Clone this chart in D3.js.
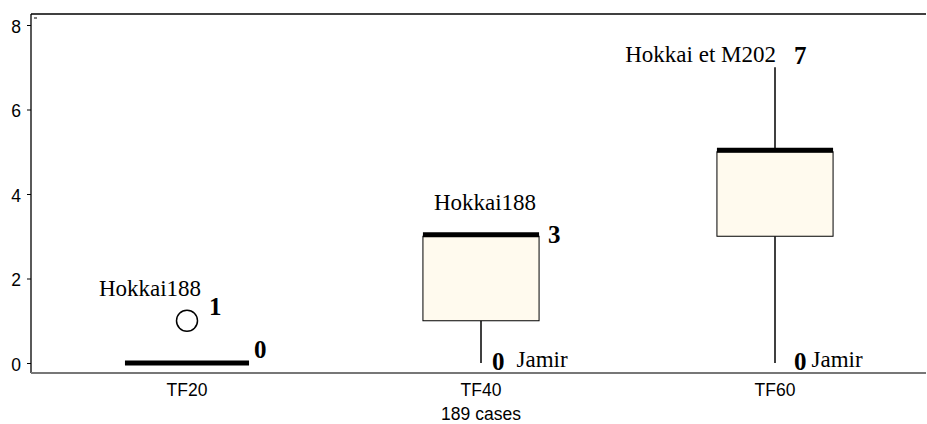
<!DOCTYPE html>
<html>
<head>
<meta charset="utf-8">
<script src="https://cdn.jsdelivr.net/npm/d3@7"></script>
<style>
  html, body { margin: 0; padding: 0; background: #fff; }
  svg { display: block; }
</style>
</head>
<body>
<svg id="chart" width="927" height="424"></svg>
<script>
// Box summaries per treatment
const categories = ["TF20", "TF40", "TF60"];
const lowWhisker = [0, 0, 0];
const q1Values = [0, 1, 3];
const medianValues = [0, 3, 5];
const q3Values = [0, 3, 5];
const highWhisker = [0, 3, 7];
const outlierValues = [[1], [], []];

// Annotations: the genotype at the top and bottom of each group
const topNames = ["Hokkai188", "Hokkai188", "Hokkai et M202"];
const bottomNames = ["", "Jamir", "Jamir"];

const yTicks = [0, 2, 4, 6, 8];
const xTitle = "189 cases";

(function draw() {
  const svg = d3.select("#chart");
  const mLeft = 31, mRight = 926, mTop = 14, mBottom = 373;

  const x = d3.scaleBand().domain(categories).range([40, 922]).padding(0);
  const y = d3.scaleLinear().domain([0, 8]).range([363, 25]);
  const cx = c => x(c) + x.bandwidth() / 2;
  const boxW = x.bandwidth() * 0.395;

  const serif = "'Liberation Serif', 'Times New Roman', serif";
  const sans = "'Liberation Sans', Arial, sans-serif";
  const txtSize = 23, numSize = 25;

  // hand-placed label offsets per group
  const medLabelDx = [5, 9, 10], medLabelDy = [-5, 7, 13];
  const lowZeroDx = [12, 11, 19], lowNameGap = [0, 12, 5];

  // frame: top rule, left axis, grey baseline
  svg.append("line").attr("x1", mLeft).attr("x2", mRight).attr("y1", mTop).attr("y2", mTop)
    .attr("stroke", "#000").attr("stroke-width", 1.3);
  svg.append("line").attr("x1", 34).attr("x2", 37).attr("y1", 18).attr("y2", 18)
    .attr("stroke", "#000").attr("stroke-width", 1);

  const yAxis = svg.append("g").attr("transform", `translate(${mLeft},0)`)
    .call(d3.axisLeft(y).tickValues(yTicks).tickSize(4).tickPadding(6).tickFormat(d3.format("d")));
  yAxis.select(".domain").attr("d", `M0,${mTop}V${mBottom}`).attr("stroke", "#000").attr("stroke-width", 1.3);
  yAxis.selectAll(".tick line").attr("stroke", "#000");
  yAxis.selectAll(".tick text").attr("font-family", sans).attr("font-size", 17.5).attr("fill", "#000")
    .attr("dy", "0.4em");

  svg.append("line").attr("x1", mLeft).attr("x2", mRight).attr("y1", mBottom).attr("y2", mBottom)
    .attr("stroke", "#777").attr("stroke-width", 2);

  const xAxis = svg.append("g").attr("transform", `translate(0,${mBottom})`)
    .call(d3.axisBottom(x).tickSize(0).tickPadding(0));
  xAxis.select(".domain").remove();
  xAxis.selectAll(".tick text").attr("font-family", sans).attr("font-size", 17.5).attr("fill", "#000")
    .attr("dy", null).attr("y", 23);

  svg.append("text").attr("x", cx("TF40")).attr("y", 420).attr("text-anchor", "middle")
    .attr("font-family", sans).attr("font-size", 17.5).attr("fill", "#000").text(xTitle);

  // boxes
  categories.forEach((c, i) => {
    const xc = cx(c);
    const g = svg.append("g");
    const hasBox = q3Values[i] > q1Values[i];
    const w = hasBox ? boxW : x.bandwidth() * 0.422;
    if (highWhisker[i] > q3Values[i]) {
      g.append("line").attr("x1", xc).attr("x2", xc)
        .attr("y1", y(q3Values[i])).attr("y2", y(highWhisker[i]))
        .attr("stroke", "#000").attr("stroke-width", 1.5);
    }
    if (lowWhisker[i] < q1Values[i]) {
      g.append("line").attr("x1", xc).attr("x2", xc)
        .attr("y1", y(q1Values[i])).attr("y2", y(lowWhisker[i]))
        .attr("stroke", "#000").attr("stroke-width", 1.5);
    }
    if (hasBox) {
      g.append("rect").attr("x", xc - boxW / 2).attr("width", boxW)
        .attr("y", y(q3Values[i])).attr("height", y(q1Values[i]) - y(q3Values[i]))
        .attr("fill", "#fffaee").attr("stroke", "#000").attr("stroke-width", 1);
    }
    // median
    g.append("line").attr("x1", xc - w / 2).attr("x2", xc + w / 2)
      .attr("y1", y(medianValues[i]) - (hasBox ? 1.5 : 0)).attr("y2", y(medianValues[i]) - (hasBox ? 1.5 : 0))
      .attr("stroke", "#000").attr("stroke-width", 5);

    // outliers
    outlierValues[i].forEach(v => {
      g.append("circle").attr("cx", xc).attr("cy", y(v)).attr("r", 10.5)
        .attr("fill", "none").attr("stroke", "#000").attr("stroke-width", 1.5);
      g.append("text").attr("x", xc + 22).attr("y", y(v) - 6)
        .attr("font-family", serif).attr("font-weight", "bold").attr("font-size", numSize).text(v);
    });

    const topVal = highWhisker[i];
    const topOut = outlierValues[i].length ? d3.max(outlierValues[i]) : null;
    if (highWhisker[i] > q3Values[i]) {
      g.append("text").attr("x", xc + 19).attr("y", y(topVal) - 3)
        .attr("font-family", serif).attr("font-weight", "bold").attr("font-size", numSize).text(topVal);
      g.append("text").attr("x", xc + 1).attr("y", y(topVal) - 5).attr("text-anchor", "end")
        .attr("font-family", serif).attr("font-size", txtSize).text(topNames[i]);
    } else {
      g.append("text").attr("x", xc + w / 2 + medLabelDx[i]).attr("y", y(medianValues[i]) + medLabelDy[i])
        .attr("font-family", serif).attr("font-weight", "bold").attr("font-size", numSize)
        .text(medianValues[i]);
      const anchorY = topOut !== null ? y(topOut) - 25 : y(q3Values[i]) - 26;
      const anchorX = topOut !== null ? xc - 37 : xc + 4;
      g.append("text").attr("x", anchorX).attr("y", anchorY).attr("text-anchor", "middle")
        .attr("font-family", serif).attr("font-size", txtSize).text(topNames[i]);
    }

    if (lowWhisker[i] < q1Values[i]) {
      const zx = xc + lowZeroDx[i];
      g.append("text").attr("x", zx).attr("y", y(lowWhisker[i]) + 7)
        .attr("font-family", serif).attr("font-weight", "bold").attr("font-size", numSize)
        .text(lowWhisker[i]);
      g.append("text").attr("x", zx + 12.5 + lowNameGap[i]).attr("y", y(lowWhisker[i]) + 4)
        .attr("font-family", serif).attr("font-size", txtSize).text(bottomNames[i]);
    }
  });
})();
</script>
</body>
</html>
